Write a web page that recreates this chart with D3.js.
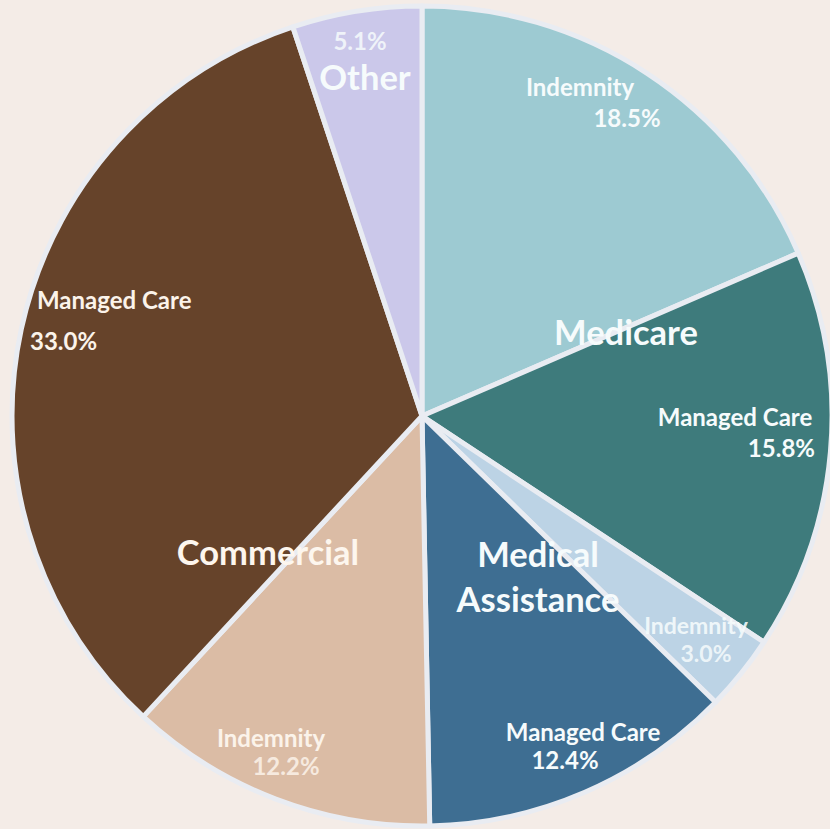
<!DOCTYPE html>
<html>
<head>
<meta charset="utf-8">
<script src="https://cdn.jsdelivr.net/npm/d3@7/dist/d3.min.js"></script>
<style>
  html, body { margin: 0; padding: 0; background: #f4ece7; }
  svg { display: block; }
  text { font-family: Lato, "Open Sans", sans-serif; font-weight: 700; }
</style>
</head>
<body>
<svg id="chart" width="830" height="829"></svg>
<script>
// ---- data ----
const groups   = ["Medicare", "Medicare", "Medical Assistance", "Medical Assistance", "Commercial", "Commercial", "Other"];
const segments = ["Indemnity", "Managed Care", "Indemnity", "Managed Care", "Indemnity", "Managed Care", "Other"];
const shares   = [18.5, 15.8, 3.0, 12.4, 12.2, 33.0, 5.1];
const colors   = ["#9dcad2", "#3e7b7c", "#bcd3e5", "#3e6e92", "#dbbca5", "#66432a", "#cbc8ea"];
const groupNames = ["Medicare", "Medical Assistance", "Commercial", "Other"];

// ---- layout ----
const W = 830, H = 829;
const cx = 422, cy = 416, R = 410;

const svg = d3.select("#chart");
svg.append("rect").attr("width", W).attr("height", H).attr("fill", "#f4ece7");

const g = svg.append("g").attr("transform", `translate(${cx},${cy})`);

const pie = d3.pie().value(d => d).sort(null);
const arcs = pie(shares);
const arc = d3.arc().innerRadius(0).outerRadius(R);

g.selectAll("path.slice")
  .data(arcs)
  .join("path")
  .attr("class", "slice")
  .attr("d", arc)
  .attr("fill", (d, i) => colors[i])
  .attr("stroke", "#e9ecf2")
  .attr("stroke-width", 5)
  .attr("stroke-linejoin", "round");

// label placement (offsets relative to pie centre)
const segLabelPos = [
  { x1: 158, y1: -320, x2: 205, y2: -289, a1: "middle", a2: "middle", fs: 24 },   // Medicare Indemnity
  { x1: 313, y1: 10,   x2: 393, y2: 41,  a1: "middle", a2: "end", fs: 24 },      // Medicare Managed Care
  { x1: 274, y1: 218,  x2: 284, y2: 246, a1: "middle", a2: "middle", fs: 23, faded: true }, // MA Indemnity
  { x1: 161, y1: 325,  x2: 143, y2: 353, a1: "middle", a2: "middle", fs: 24 },   // MA Managed Care
  { x1: -151, y1: 331, x2: -136, y2: 359, a1: "middle", a2: "middle", fs: 24, faded: true }, // Commercial Indemnity
  { x1: -385, y1: -107, x2: -392, y2: -66, a1: "start", a2: "start", fs: 24 },   // Commercial Managed Care
  { x1: null, y1: null, x2: -62, y2: -366, a1: "middle", a2: "middle", fs: 24, faded: true } // Other share
];

const groupLabelPos = [
  { x: 204, y: -71, lines: ["Medicare"] },
  { x: 116, y: 151, lines: ["Medical", "Assistance"], lh: 45 },
  { x: -154, y: 149, lines: ["Commercial"] },
  { x: -57, y: -326, lines: ["Other"] }
];

const textColor = i => i === 4 || i === 5 ? "#fbf3ea" : "#f6fbfc";

arcs.forEach((d, i) => {
  const p = segLabelPos[i];
  if (p.x1 !== null && segments[i] !== "Other") {
    g.append("text")
      .attr("x", p.x1).attr("y", p.y1)
      .attr("text-anchor", p.a1)
      .attr("font-size", p.fs)
      .attr("fill", textColor(i))
      .attr("fill-opacity", p.faded && i === 2 ? 0.9 : 1)
      .text(segments[i]);
  }
  g.append("text")
    .attr("x", p.x2).attr("y", p.y2)
    .attr("text-anchor", p.a2)
    .attr("font-size", p.fs)
    .attr("fill", textColor(i))
    .attr("fill-opacity", p.faded ? 0.85 : 1)
    .text(d3.format(".1f")(shares[i]) + "%");
});

groupNames.forEach((name, k) => {
  const p = groupLabelPos[k];
  const idx = groups.indexOf(name);
  const t = g.append("text")
    .attr("x", p.x).attr("y", p.y)
    .attr("text-anchor", "middle")
    .attr("font-size", 34.5)
    .attr("fill", idx === 5 || idx === 4 ? "#fdf6ee" : "#f6fbfc");
  p.lines.forEach((ln, j) => {
    t.append("tspan").attr("x", p.x).attr("dy", j === 0 ? 0 : p.lh).text(ln);
  });
});
</script>
</body>
</html>
